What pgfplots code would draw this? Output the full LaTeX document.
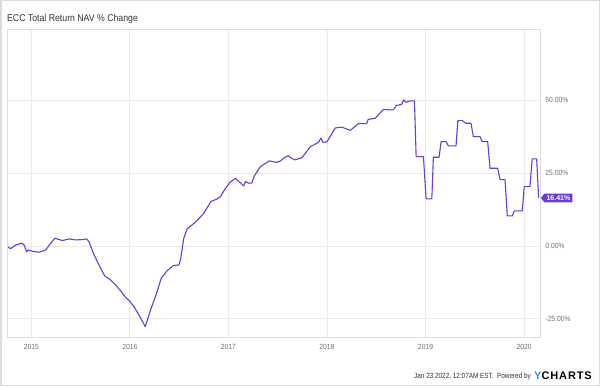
\documentclass[border=0pt]{standalone}
\usepackage{fontspec}
\setmainfont{Liberation Sans}
\usepackage{pgfplots}
\pgfplotsset{compat=1.18}
\usetikzlibrary{shapes.symbols}
\definecolor{ycpurple}{HTML}{6A3DD8}
\definecolor{ycblue}{HTML}{2E9BF0}
\definecolor{gridc}{HTML}{EBEBEB}
\definecolor{framec}{HTML}{DCDCDC}
\definecolor{tickc}{HTML}{707070}
\definecolor{textc}{HTML}{333333}
\begin{document}
\begin{tikzpicture}
\useasboundingbox (0pt,0pt) rectangle (600pt,386pt);
\fill[white] (0pt,0pt) rectangle (600pt,386pt);
\draw[framec, line width=1.5pt] (0.75pt,0.75pt) rectangle (599.25pt,385.25pt);
\node[anchor=base west, inner sep=0pt, text=textc, xscale=0.89, font=\fontsize{9.8}{11}\selectfont] at (7pt,364pt) {ECC Total Return NAV \% Change};
\begin{axis}[
  at={(7.7pt,49pt)}, anchor=south west,
  scale only axis, width=532.3pt, height=308pt,
  xmin=2014.76, xmax=2020.162, ymin=-31.2, ymax=74.3,
  clip=false,
  axis line style={framec, line width=0.8pt},
  grid=major, major grid style={gridc, line width=0.8pt},
  major tick length=0pt,
  xtick={2015,2016,2017,2018,2019,2020},
  xticklabels={2015,2016,2017,2018,2019,2020},
  ytick={-25,0,25,50},
  yticklabels={-25.00\%,0.00\%,25.00\%,50.00\%},
  yticklabel pos=right,
  xticklabel style={text=tickc, xscale=0.9, font=\fontsize{7.5}{9}\selectfont, yshift=-4pt},
  yticklabel style={text=tickc, xscale=0.9, font=\fontsize{7.5}{9}\selectfont, anchor=west, xshift=2.5pt},
]
\addplot[ycpurple, line width=1.1pt, line join=round] coordinates {
(2014.764,-0.45) (2014.791,-0.92) (2014.842,0.34) (2014.900,0.92) (2014.926,0.34)
(2014.953,-2.05) (2014.967,-1.37) (2015.011,-1.82) (2015.078,-2.16) (2015.146,-1.37)
(2015.197,0.92) (2015.240,2.64) (2015.315,1.82) (2015.382,2.40) (2015.450,2.05)
(2015.518,2.16) (2015.561,2.40) (2015.585,1.47) (2015.629,-2.50) (2015.686,-6.51)
(2015.744,-10.27) (2015.804,-11.64) (2015.855,-13.36) (2015.906,-15.41) (2015.956,-17.64)
(2016.000,-19.01) (2016.041,-20.79) (2016.091,-23.63) (2016.156,-27.64) (2016.210,-21.92)
(2016.271,-16.20) (2016.318,-11.06) (2016.379,-8.46) (2016.440,-6.75) (2016.496,-6.51)
(2016.514,-4.79) (2016.547,2.64) (2016.582,5.92) (2016.632,7.19) (2016.683,8.73)
(2016.750,11.20) (2016.823,15.24) (2016.886,16.10) (2016.919,16.88) (2016.959,19.18)
(2017.020,21.92) (2017.071,23.12) (2017.122,21.58) (2017.155,20.55) (2017.172,22.02)
(2017.206,21.47) (2017.238,21.58) (2017.263,23.97) (2017.324,27.16) (2017.415,29.11)
(2017.491,28.60) (2017.527,29.11) (2017.578,30.48) (2017.608,30.89) (2017.628,30.31)
(2017.674,29.45) (2017.747,30.24) (2017.831,34.01) (2017.915,35.45) (2017.939,36.99)
(2017.959,35.51) (2018.000,35.62) (2018.084,40.41) (2018.152,40.69) (2018.236,39.55)
(2018.320,41.88) (2018.403,41.88) (2018.418,43.32) (2018.489,43.73) (2018.573,46.75)
(2018.641,46.58) (2018.675,46.58) (2018.702,48.05) (2018.760,48.53) (2018.776,50.00)
(2018.803,49.21) (2018.844,49.66) (2018.888,49.66) (2018.905,30.58) (2018.979,30.58)
(2019.006,16.10) (2019.064,16.10) (2019.080,30.38) (2019.138,30.38) (2019.158,35.72)
(2019.209,35.72) (2019.232,34.25) (2019.310,34.25) (2019.328,42.91) (2019.374,42.91)
(2019.408,42.02) (2019.462,42.02) (2019.485,37.43) (2019.553,37.43) (2019.576,35.72)
(2019.631,35.72) (2019.655,26.61) (2019.733,26.61) (2019.756,22.71) (2019.807,22.71)
(2019.830,10.27) (2019.881,10.27) (2019.901,11.99) (2019.982,11.99) (2020.002,20.31)
(2020.060,20.31) (2020.083,29.80) (2020.128,29.80) (2020.148,16.41)
} node[pos=1, signal, signal to=west, signal pointer angle=100, fill=ycpurple, text=white,
  font=\bfseries\fontsize{7}{8}\selectfont, inner xsep=2pt, inner ysep=2pt,
  anchor=west, xshift=1.5pt] {16.41\%};
\end{axis}
\node[anchor=base east, inner sep=0pt, text=textc, xscale=0.85, font=\fontsize{7.5}{9}\selectfont] at (531pt,7.5pt) {Jan 23 2022, 12:07AM EST.\ \ Powered by};
\node[anchor=base west, inner sep=0pt, font=\bfseries\fontsize{11}{13}\selectfont\addfontfeatures{LetterSpace=8}] at (534pt,6.5pt) {\textcolor{ycblue}{Y}CHARTS};
\end{tikzpicture}
\end{document}
